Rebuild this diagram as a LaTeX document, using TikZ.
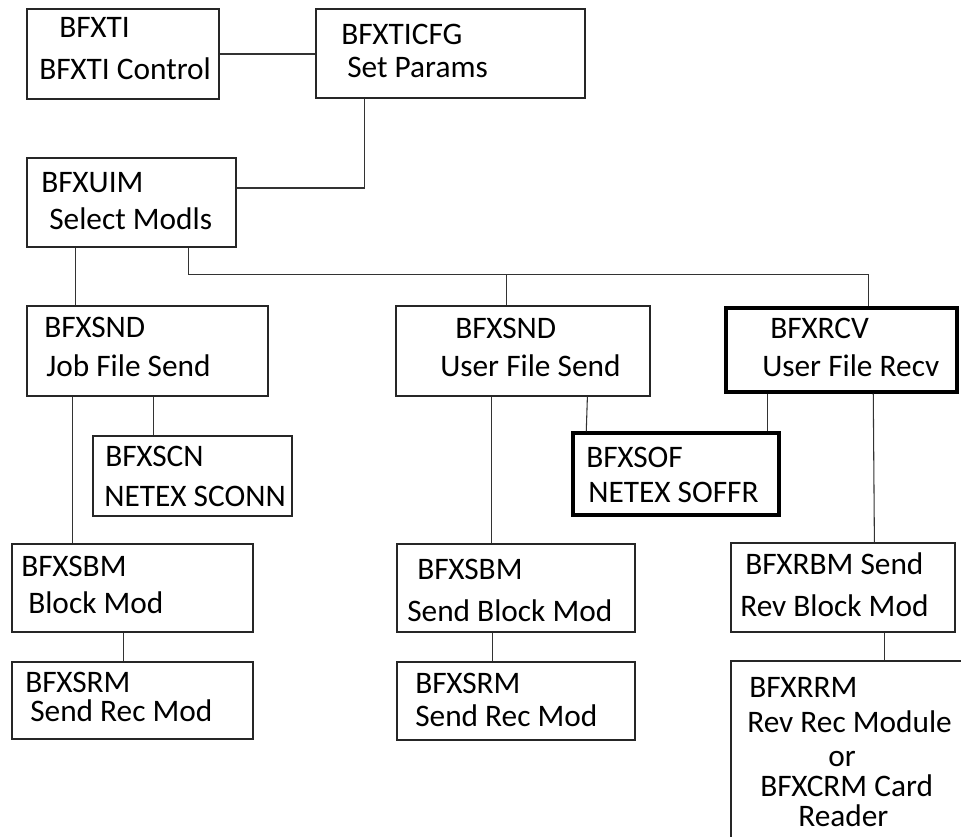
\documentclass[tikz,border=0pt]{standalone}
\usepackage{fontspec}
\setmainfont{Carlito}
\usetikzlibrary{fit}

\tikzset{
  box/.style={draw=black!85, line width=0.9pt, inner sep=0pt, fit={#1}},
  heavybox/.style={box={#1}, draw=black, line width=2.6pt},
  link/.style={draw=black!80, line width=0.8pt},
  txt/.style={anchor=base west, inner sep=0pt, text height=0.66em, text depth=0.18em,
    font=\fontsize{23.5}{28}\selectfont}
}

\begin{document}
\begin{tikzpicture}[x=0.75pt, y=-0.75pt]
\useasboundingbox (0,0) rectangle (961,837);
\clip (0,0) rectangle (961,837);

% module boxes
\node[box={(27,9) (219,99)}] (ti) {};
\node[box={(316,9) (585,98)}] (cfg) {};
\node[box={(27,158) (236,247)}] (uim) {};
\node[box={(27,306) (268,396)}] (sndj) {};
\node[box={(93,436) (292,516)}] (scn) {};
\node[box={(12,544) (253,632)}] (sbmj) {};
\node[box={(12,662) (253,739)}] (srmj) {};
\node[box={(396,306) (650,396)}] (sndu) {};
\node[heavybox={(573,433) (779,515)}] (sof) {};
\node[heavybox={(726,308) (957,392)}] (rcv) {};
\node[box={(397,544) (635,632)}] (sbmu) {};
\node[box={(397,662) (635,740)}] (srmu) {};
\node[box={(731,543) (955,632)}] (rbm) {};
\node[box={(731,661) (990,870)}] (rrm) {};

% texts
\foreach \x/\y/\t [count=\i] in {
  59/38/BFXTI, 39/80/BFXTI Control,
  341/45/BFXTICFG, 347/78/Set Params,
  41/193/BFXUIM, 49/230/Select Modls,
  44/338/BFXSND, 46/377/Job File Send,
  105/467/BFXSCN, 104/507/NETEX SCONN,
  21/577/BFXSBM, 28/614/Block Mod,
  25/692/BFXSRM, 30/721/Send Rec Mod,
  455/339/BFXSND, 440/377/User File Send,
  586/468/BFXSOF, 588/503/NETEX SOFFR,
  770/339/BFXRCV, 762/377/User File Recv,
  417/580/BFXSBM, 407/622/Send Block Mod,
  415/694/BFXSRM, 415/727/Send Rec Mod,
  745/575/BFXRBM Send, 740/617/Rev Block Mod,
  749/698/BFXRRM, 747/733/Rev Rec Module,
  760/797/BFXCRM Card, 798/826/Reader}
  \node[txt] (line\i) at (\x,\y) {\t};
\node[txt, anchor=base, text depth=0pt] (orline) at (842,767) {or};

% connectors
\coordinate (bus) at ([shift={(162,27)}]uim.south west);
\coordinate (sndutop) at ([shift={(111,0)}]sndu.north west);
\draw[link] (ti.east) -- (ti.east -| cfg.west);
\draw[link] ([shift={(49,0)}]cfg.south west) |- ([shift={(0,-14.5)}]uim.east);
\draw[link] ([shift={(49,0)}]uim.south west) -- ([shift={(49,0)}]sndj.north west);
\draw[link] ([shift={(162,0)}]uim.south west) -- (bus) -| ([shift={(144,0)}]rcv.north west);
\draw[link] (sndutop) -- (sndutop |- bus);
\draw[link] ([shift={(46,0)}]sndj.south west) -- ([shift={(61,0)}]sbmj.north west);
\draw[link] ([shift={(127,0)}]sndj.south west) -- ([shift={(61,0)}]scn.north west);
\draw[link] ([shift={(112,0)}]sbmj.south west) -- ([shift={(112,0)}]srmj.north west);
\draw[link] ([shift={(96,0)}]sndu.south west) -- ([shift={(95,0)}]sbmu.north west);
\draw[link] ([shift={(192,0)}]sndu.south west) -- ([shift={(15,0)}]sof.north west);
\draw[link] ([shift={(43,0)}]rcv.south west) -- ([shift={(196,0)}]sof.north west);
\draw[link] ([shift={(149,0)}]rcv.south west) -- ([shift={(144,0)}]rbm.north west);
\draw[link] ([shift={(96,0)}]sbmu.south west) -- ([shift={(96,0)}]srmu.north west);
\draw[link] ([shift={(154,0)}]rbm.south west) -- ([shift={(154,0)}]rrm.north west);
\end{tikzpicture}
\end{document}
